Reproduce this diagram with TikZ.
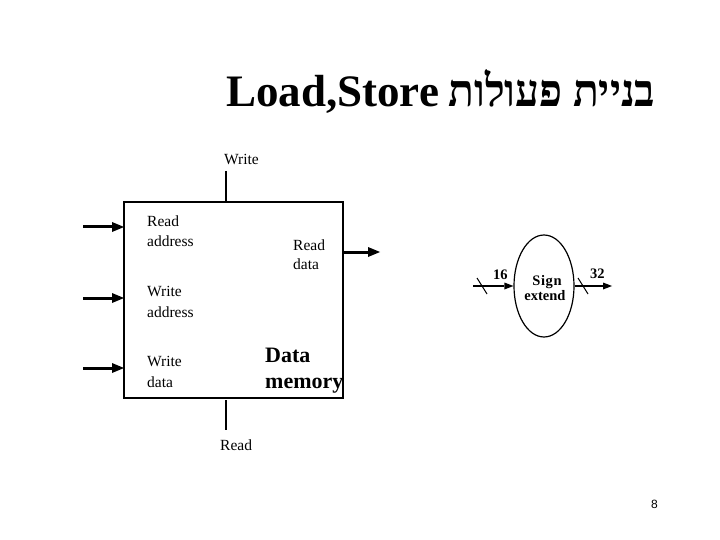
\documentclass[tikz,border=0pt]{standalone}
\usepackage{fontspec}
\setmainfont{Liberation Serif}
\newfontfamily\hebfont[Script=Hebrew]{Liberation Serif}
\newfontfamily\pgfont{Liberation Sans}
\TeXXeTstate=1
\usetikzlibrary{arrows.meta,shapes.geometric}
\begin{document}
\begin{tikzpicture}[x=1pt,y=-1pt,
  lbl/.style={inner sep=0pt,anchor=base west,font=\fontsize{15.5}{20}\selectfont},
  bigarrow/.style={line width=3pt,-{Triangle[length=12pt,width=10pt,line width=0pt]}},
  thinarrow/.style={line width=1.2pt,-{Triangle[length=9pt,width=7pt,line width=0pt]}},
  ctrl/.style={line width=1.5pt},
  small/.style={inner sep=0pt,anchor=base west,font=\bfseries\fontsize{14.5}{15}\selectfont}]
\useasboundingbox (0,0) rectangle (720,540);
% title
\node[inner sep=0pt,anchor=base west,font=\bfseries\fontsize{45}{50}\selectfont] (title) at (226,107)
  {Load,Store\hspace{-2pt} \scalebox{0.94}[1]{\hebfont\bfseries\beginR בניית פעולות\endR}};
% memory box
\node[draw,line width=2pt,minimum width=219pt,minimum height=196pt,inner sep=0pt] (mem) at (233.5,300) {};
% control lines
\coordinate (wtop) at (226,171);
\coordinate (wbot) at (226,201);
\coordinate (rtop) at (226,400);
\coordinate (rbot) at (226,430);
\draw[ctrl] (wtop) -- (wbot);
\draw[ctrl] (rtop) -- (rbot);
\node[lbl] (wlab) at (224,165) {Write};
\node[lbl] (rlab) at (220,450) {Read};
% inputs
\coordinate (i1) at (83,227); \coordinate (e1) at (124,227);
\coordinate (i2) at (83,298); \coordinate (e2) at (124,298);
\coordinate (i3) at (83,368); \coordinate (e3) at (124,368);
\draw[bigarrow] (i1) -- (e1);
\draw[bigarrow] (i2) -- (e2);
\draw[bigarrow] (i3) -- (e3);
\coordinate (o1) at (344,252); \coordinate (o2) at (380,252);
\draw[bigarrow] (o1) -- (o2);
% labels inside
\node[lbl] (ra) at (147,226) {Read};
\node[lbl] (ra2) at (147,247) {address};
\node[lbl] (wa) at (147,296) {Write};
\node[lbl] (wa2) at (147,317) {address};
\node[lbl] (wd) at (147,366) {Write};
\node[lbl] (wd2) at (147,387) {data};
\node[lbl] (rd) at (293,250) {Read};
\node[lbl] (rd2) at (293,269) {data};
\node[inner sep=0pt,anchor=base west,font=\bfseries\fontsize{22}{24}\selectfont] (dm) at (265,362) {Data};
\node[inner sep=0pt,anchor=base west,font=\bfseries\fontsize{22}{24}\selectfont] (dm2) at (265,388) {memory};
% sign extend
\node[draw,ellipse,line width=1.2pt,minimum width=60pt,minimum height=102pt,inner sep=0pt] (se) at (544,286) {};
\node[small,anchor=base] (s1) at (547,285) {S\kern.7pt i\kern.7pt g\kern.7pt n};
\node[small,anchor=base] (s2) at (545,300) {extend};
\coordinate (a1) at (473,286);
\coordinate (a3) at (612,286);
\draw[thinarrow] (a1) -- (se.west);
\draw[thinarrow] (se.east) -- (a3);
\coordinate (sl1a) at (477,278); \coordinate (sl1b) at (487,294);
\coordinate (sl2a) at (578,278); \coordinate (sl2b) at (588,294);
\draw[line width=1pt] (sl1a) -- (sl1b);
\draw[line width=1pt] (sl2a) -- (sl2b);
\node[small] (n16) at (493,279) {16};
\node[small] (n32) at (590,278) {32};
% page number
\node[inner sep=0pt,anchor=base west,font=\pgfont\fontsize{12}{13}\selectfont] (pg) at (651,508) {8};
\end{tikzpicture}
\end{document}
